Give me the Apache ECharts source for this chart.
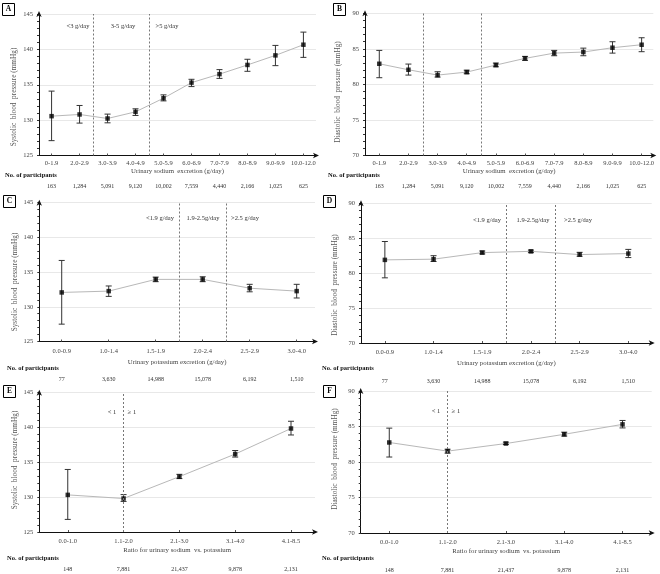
<!DOCTYPE html>
<html>
<head>
<meta charset="utf-8">
<script src="https://cdn.jsdelivr.net/npm/echarts@6/dist/echarts.min.js"></script>
<style>html,body{margin:0;padding:0;background:#fff}#c{width:660px;height:574px}</style>
</head>
<body>
<div id="c"></div>
<script>
const sodiumCats = ['0-1.9','2.0-2.9','3.0-3.9','4.0-4.9','5.0-5.9','6.0-6.9','7.0-7.9','8.0-8.9','9.0-9.9','10.0-12.0'];
const sodiumCounts = ['163','1,284','5,091','9,120','10,002','7,559','4,440','2,166','1,025','625'];
const sbpSodiumMean = [130.56,130.8,130.23,131.17,133.1,135.3,136.5,137.8,139.15,140.66];
const sbpSodiumLow  = [127.1,129.58,129.62,130.66,132.72,134.74,135.9,136.9,137.7,138.87];
const sbpSodiumHigh = [134.1,132.07,130.85,131.6,133.57,135.77,137.14,138.6,140.56,142.44];
const dbpSodiumMean = [82.9,82.06,81.31,81.73,82.72,83.66,84.4,84.55,85.16,85.58];
const dbpSodiumLow  = [80.94,81.31,81.03,81.5,82.48,83.38,84.03,84.03,84.4,84.6];
const dbpSodiumHigh = [84.78,82.86,81.78,82.0,83.0,83.94,84.78,85.1,86.0,86.56];

const potCats = ['0.0-0.9','1.0-1.4','1.5-1.9','2.0-2.4','2.5-2.9','3.0-4.0'];
const potCounts = ['77','3,630','14,988','15,078','6,192','1,510'];
const sbpPotMean = [132.07,132.26,133.95,133.95,132.68,132.26];
const sbpPotLow  = [127.5,131.5,133.62,133.62,132.16,131.27];
const sbpPotHigh = [136.68,133.0,134.28,134.33,133.24,133.24];
const dbpPotMean = [81.9,82.0,82.94,83.12,82.66,82.8];
const dbpPotLow  = [79.33,81.67,82.75,82.94,82.42,82.23];
const dbpPotHigh = [84.53,82.5,83.17,83.3,82.98,83.4];

const ratioCats = ['0.0-1.0','1.1-2.0','2.1-3.0','3.1-4.0','4.1-8.5'];
const ratioCounts = ['148','7,881','21,437','9,878','2,131'];
const sbpRatioMean = [130.33,129.81,132.95,136.19,139.86];
const sbpRatioLow  = [126.81,129.39,132.67,135.76,138.93];
const sbpRatioHigh = [133.98,130.37,133.28,136.7,140.9];
const dbpRatioMean = [82.75,81.53,82.6,83.9,85.3];
const dbpRatioLow  = [80.7,81.25,82.47,83.65,84.8];
const dbpRatioHigh = [84.77,81.8,82.8,84.2,85.85];

const sbpTicks = [125,130,135,140,145];
const dbpTicks = [70,75,80,85,90];

const FONT = 'Liberation Serif';
const SBP = 'Systolic  blood  pressure (mmHg)';
const DBP = 'Diastolic  blood  pressure (mmHg)';

const panels = [
  {letter:'A', box:[2,3], grid:{left:39,top:14,width:277,height:141.5}, xr:[-0.45,9.45], yt:sbpTicks,
   cats:sodiumCats, counts:sodiumCounts, mean:sbpSodiumMean, low:sbpSodiumLow, high:sbpSodiumHigh,
   xname:'Urinary sodium  excretion (g/day)', yname:SBP, ynamePos:[14,97], div:[1.5,3.5],
   zones:[['<3 g/day',78,26],['3-5 g/day',123,26],['>5 g/day',167,26]], nop:[5,175], lm:4.5, ng:12, co:25},
  {letter:'B', box:[333,3], grid:{left:365,top:13.3,width:288.3,height:142.2}, xr:[-0.49,9.40], yt:dbpTicks,
   cats:sodiumCats, counts:sodiumCounts, mean:dbpSodiumMean, low:dbpSodiumLow, high:dbpSodiumHigh,
   xname:'Urinary sodium  excretion (g/day)', yname:DBP, ynamePos:[338,92], div:[1.5,3.5],
   zones:[], nop:[328,175], lm:4.5, ng:12, co:25},
  {letter:'C', box:[3,195], grid:{left:39.3,top:202.7,width:275.7,height:138.8}, xr:[-0.477,5.39], yt:sbpTicks,
   cats:potCats, counts:potCounts, mean:sbpPotMean, low:sbpPotLow, high:sbpPotHigh,
   xname:'Urinary potassium excretion (g/day)', yname:SBP, ynamePos:[15,282], div:[2.5,3.5],
   zones:[['<1.9 g/day',160,218],['1.9-2.5g/day',203,218],['>2.5 g/day',245,218]], nop:[7,368], lm:6, ng:17, co:32},
  {letter:'D', box:[323,195], grid:{left:361,top:203.3,width:290.7,height:139.7}, xr:[-0.49,5.48], yt:dbpTicks,
   cats:potCats, counts:potCounts, mean:dbpPotMean, low:dbpPotLow, high:dbpPotHigh,
   xname:'Urinary potassium excretion (g/day)', yname:DBP, ynamePos:[335,285], div:[2.5,3.5],
   zones:[['<1.9 g/day',487,220],['1.9-2.5g/day',533,220],['>2.5 g/day',578,220]], nop:[322,368], lm:6, ng:17, co:32},
  {letter:'E', box:[3,385], grid:{left:39.3,top:392.7,width:275.7,height:139.3}, xr:[-0.51,4.43], yt:sbpTicks,
   cats:ratioCats, counts:ratioCounts, mean:sbpRatioMean, low:sbpRatioLow, high:sbpRatioHigh,
   xname:'Ratio for urinary sodium  vs. potassium', yname:SBP, ynamePos:[15,460], div:[1],
   zones:[['< 1',112,412],['\u2265 1',132,412]], nop:[7,558], lm:5.5, ng:15, co:31.5},
  {letter:'F', box:[323,385], grid:{left:360.7,top:391,width:291,height:142}, xr:[-0.49,4.5], yt:dbpTicks,
   cats:ratioCats, counts:ratioCounts, mean:dbpRatioMean, low:dbpRatioLow, high:dbpRatioHigh,
   xname:'Ratio for urinary sodium  vs. potassium', yname:DBP, ynamePos:[335,459], div:[1],
   zones:[['< 1',436,411],['\u2265 1',456,411]], nop:[322,558], lm:5.5, ng:15, co:31.5}
];

const option = {animation:false, backgroundColor:'#fff', grid:[], xAxis:[], yAxis:[], series:[], graphic:[]};

panels.forEach((p, i) => {
  const idx = p.cats.map((_, k) => k);
  option.grid.push(Object.assign({containLabel:false}, p.grid));
  option.xAxis.push({
    type:'value', gridIndex:i, min:p.xr[0], max:p.xr[1], position:'bottom',
    axisLine:{show:true, onZero:false, lineStyle:{color:'#111', width:1}, symbol:['none','arrow'], symbolSize:[4,6], symbolOffset:[0,3]},
    axisTick:{show:true, inside:true, length:2, customValues:idx, lineStyle:{color:'#555'}},
    axisLabel:{customValues:idx, formatter:v => p.cats[Math.round(v)], fontFamily:FONT, fontSize:6.5, color:'#444', margin:p.lm},
    splitLine:{show:false},
    name:p.xname, nameLocation:'middle', nameGap:p.ng,
    nameTextStyle:{fontFamily:FONT, fontSize:6.8, color:'#444'}
  });
  option.xAxis.push({
    type:'value', gridIndex:i, min:p.xr[0], max:p.xr[1], position:'bottom', offset:p.co,
    axisLine:{show:false, onZero:false}, axisTick:{show:false}, splitLine:{show:false},
    axisLabel:{customValues:idx, formatter:v => p.counts[Math.round(v)], fontFamily:FONT, fontSize:6, color:'#333', margin:3}
  });
  option.yAxis.push({
    type:'value', gridIndex:i, min:p.yt[0], max:p.yt[p.yt.length-1], interval:5,
    axisLine:{show:true, onZero:false, lineStyle:{color:'#111', width:1}, symbol:['none','arrow'], symbolSize:[4,6], symbolOffset:[0,3]},
    axisTick:{show:true, length:2, lineStyle:{color:'#333'}},
    minorTick:{show:true, splitNumber:5, length:2, lineStyle:{color:'#333'}},
    axisLabel:{fontFamily:FONT, fontSize:6.5, color:'#444', margin:6},
    splitLine:{show:true, lineStyle:{color:'#e8e8e8', width:1}}
  });
  const xi = i*2;
  option.series.push({
    type:'line', xAxisIndex:xi, yAxisIndex:i, data:p.mean.map((v,k)=>[k,v]),
    symbol:'none', lineStyle:{color:'#b8b8b8', width:1}, z:2,
    markLine:{silent:true, symbol:['none','none'], label:{show:false},
      lineStyle:{type:[2,2], color:'#777', width:1}, data:p.div.map(v=>({xAxis:v}))}
  });
  option.series.push({
    type:'custom', xAxisIndex:xi, yAxisIndex:i, z:3,
    data:p.mean.map((v,k)=>[k,p.low[k],p.high[k]]),
    renderItem:(params, api) => {
      const x = api.value(0);
      const lo = api.coord([x, api.value(1)]);
      const hi = api.coord([x, api.value(2)]);
      const w = 3;
      const st = {stroke:'#333', lineWidth:1};
      return {type:'group', children:[
        {type:'line', shape:{x1:hi[0],y1:hi[1],x2:lo[0],y2:lo[1]}, style:st},
        {type:'line', shape:{x1:hi[0]-w,y1:hi[1],x2:hi[0]+w,y2:hi[1]}, style:st},
        {type:'line', shape:{x1:lo[0]-w,y1:lo[1],x2:lo[0]+w,y2:lo[1]}, style:st}
      ]};
    }
  });
  option.series.push({
    type:'scatter', xAxisIndex:xi, yAxisIndex:i, z:4, data:p.mean.map((v,k)=>[k,v]),
    symbol:'rect', symbolSize:4.5, itemStyle:{color:'#000'}
  });
  option.graphic.push({type:'rect', shape:{x:p.box[0]+0.5, y:p.box[1]+0.5, width:12, height:12},
    style:{fill:'#fff', stroke:'#000', lineWidth:1}});
  option.graphic.push({type:'text', x:p.box[0]+6.5, y:p.box[1]+6.5,
    style:{text:p.letter, fontFamily:FONT, fontWeight:'bold', fontSize:7.5, fill:'#000', align:'center', verticalAlign:'middle'}});
  option.graphic.push({type:'text', x:p.ynamePos[0], y:p.ynamePos[1], rotation:Math.PI/2,
    style:{text:p.yname, fontFamily:FONT, fontSize:7.3, fill:'#555', align:'center', verticalAlign:'middle'}});
  option.graphic.push({type:'text', x:p.nop[0], y:p.nop[1],
    style:{text:'No. of participants', fontFamily:FONT, fontWeight:'bold', fontSize:6.5, fill:'#111', align:'left', verticalAlign:'middle'}});
  p.zones.forEach(z => option.graphic.push({type:'text', x:z[1], y:z[2],
    style:{text:z[0], fontFamily:FONT, fontSize:6.5, fill:'#333', align:'center', verticalAlign:'middle'}}));
});

const chart = echarts.init(document.getElementById('c'), null, {renderer:'canvas'});
chart.setOption(option);
</script>
</body>
</html>
